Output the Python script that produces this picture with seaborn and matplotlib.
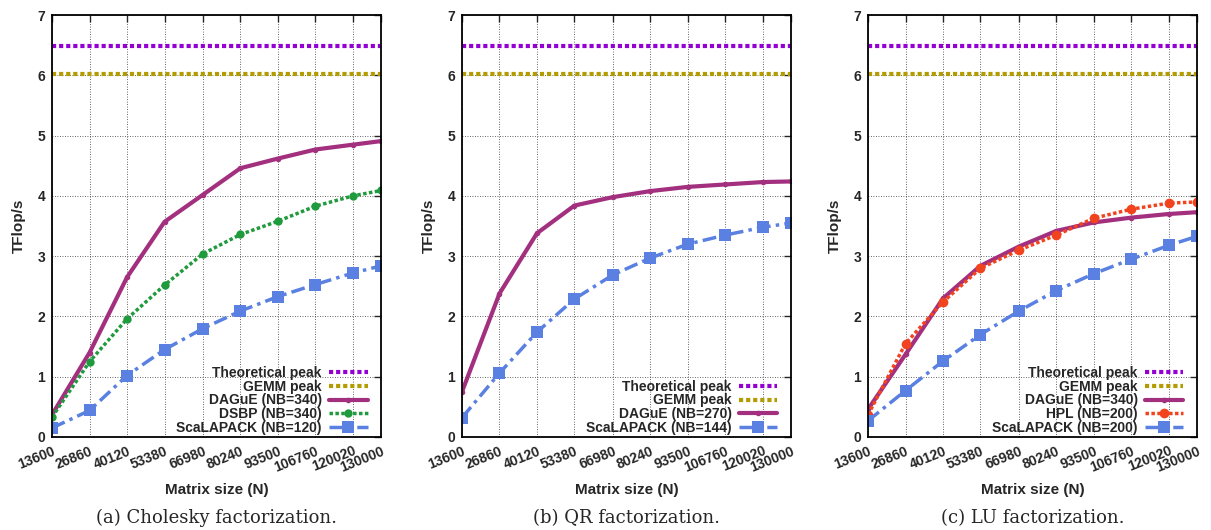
import matplotlib
matplotlib.use("Agg")
import matplotlib.pyplot as plt
import seaborn as sns

# matrix sizes on the x axis
sizes = [13600, 26860, 40120, 53380, 66980, 80240, 93500, 106760, 120020, 130000]
theoretical_peak = 6.48
gemm_peak = 6.02

# (a) Cholesky
chol_dague = [0.37, 1.40, 2.65, 3.57, 4.02, 4.46, 4.62, 4.77, 4.85, 4.91]
chol_dsbp = [0.33, 1.25, 1.96, 2.52, 3.04, 3.36, 3.58, 3.83, 4.00, 4.09]
chol_scalapack = [0.15, 0.44, 1.02, 1.45, 1.80, 2.09, 2.33, 2.53, 2.72, 2.84]

# (b) QR
qr_dague = [0.75, 2.38, 3.38, 3.84, 3.98, 4.08, 4.15, 4.19, 4.23, 4.24]
qr_scalapack = [0.32, 1.06, 1.74, 2.29, 2.69, 2.97, 3.20, 3.35, 3.48, 3.55]

# (c) LU
lu_dague = [0.46, 1.37, 2.30, 2.84, 3.16, 3.42, 3.56, 3.64, 3.70, 3.73]
lu_hpl = [0.37, 1.55, 2.24, 2.80, 3.10, 3.35, 3.63, 3.78, 3.88, 3.90]
lu_scalapack = [0.27, 0.77, 1.26, 1.70, 2.09, 2.43, 2.71, 2.95, 3.18, 3.33]

captions = ['(a) Cholesky factorization.', '(b) QR factorization.', '(c) LU factorization.']

sns.set_style("white")
plt.rcParams['font.family'] = ['Liberation Sans', 'DejaVu Sans']

C_THEO = '#9400d3'
C_GEMM = '#b39c00'
C_DAGUE = '#a3307e'
C_DSBP = '#1f9a3c'
C_SCALA = '#5a80e2'
C_HPL = '#f2431f'

DOT = (0, (1.0, 0.7))
DASHDOT = (0, (4, 1.5, 1, 1.5))

fig = plt.figure(figsize=(12.11, 5.30), dpi=100)
lefts = [0.043, 0.3815, 0.7168]
axes = [fig.add_axes([l, 0.1755, 0.2717, 0.796]) for l in lefts]


def peaks(ax):
    sns.lineplot(x=[sizes[0], sizes[-1]], y=[theoretical_peak] * 2, ax=ax, color=C_THEO,
                 linestyle=DOT, lw=3, label='Theoretical peak')
    sns.lineplot(x=[sizes[0], sizes[-1]], y=[gemm_peak] * 2, ax=ax, color=C_GEMM,
                 linestyle=DOT, lw=3, label='GEMM peak')


def dague(ax, vals, nb):
    sns.lineplot(x=sizes, y=vals, ax=ax, color=C_DAGUE, lw=3, marker='o', markersize=4,
                 markeredgewidth=0, label=f'DAGuE (NB={nb})')


def scala(ax, vals, nb):
    sns.lineplot(x=sizes, y=vals, ax=ax, color=C_SCALA, lw=2.5, linestyle=DASHDOT,
                 marker='s', markersize=9, markeredgewidth=0, label=f'ScaLAPACK (NB={nb})')


# (a) Cholesky
ax = axes[0]
peaks(ax)
dague(ax, chol_dague, 340)
sns.lineplot(x=sizes, y=chol_dsbp, ax=ax, color=C_DSBP, lw=2.5, linestyle=DOT,
             marker='o', markersize=6, markeredgewidth=0, label='DSBP (NB=340)')
scala(ax, chol_scalapack, 120)

# (b) QR
ax = axes[1]
peaks(ax)
dague(ax, qr_dague, 270)
scala(ax, qr_scalapack, 144)

# (c) LU
ax = axes[2]
peaks(ax)
dague(ax, lu_dague, 340)
sns.lineplot(x=sizes, y=lu_hpl, ax=ax, color=C_HPL, lw=2.5, linestyle=DOT,
             marker='o', markersize=7, markeredgewidth=0, label='HPL (NB=200)')
scala(ax, lu_scalapack, 200)

for ax, cap in zip(axes, captions):
    ax.set_xlim(13600, 130000)
    ax.set_ylim(0, 7)
    ax.set_xticks(sizes)
    ax.set_xticklabels([str(s) for s in sizes], rotation=22, ha='right',
                       rotation_mode='anchor', fontsize=10, fontweight='bold')
    ax.set_yticks(range(8))
    ax.set_yticklabels([str(i) for i in range(8)], fontsize=10, fontweight='bold')
    ax.tick_params(direction='in', length=5, width=1, top=True, right=True, pad=5)
    ax.grid(True, color='#333333', linestyle=(0, (1, 2)), lw=0.6)
    for sp in ax.spines.values():
        sp.set_color('black')
        sp.set_linewidth(1.3)
    ax.set_xlabel('Matrix size (N)', fontsize=11, fontweight='bold', labelpad=6)
    ax.set_ylabel('TFlop/s', fontsize=11, fontweight='bold', labelpad=8)
    ax.legend(loc='lower right', frameon=False, markerfirst=False,
              prop={'weight': 'bold', 'size': 10}, handlelength=2.8,
              labelspacing=-0.02, borderaxespad=0.05, borderpad=0.1,
              handletextpad=0.5, bbox_to_anchor=(0.965, 0.0))
    pos = ax.get_position()
    fig.text(pos.x0 + pos.width / 2, 0.023, cap, ha='center', va='center',
             fontsize=13, family=['DejaVu Serif'])

fig.savefig('out.png', dpi=100)
